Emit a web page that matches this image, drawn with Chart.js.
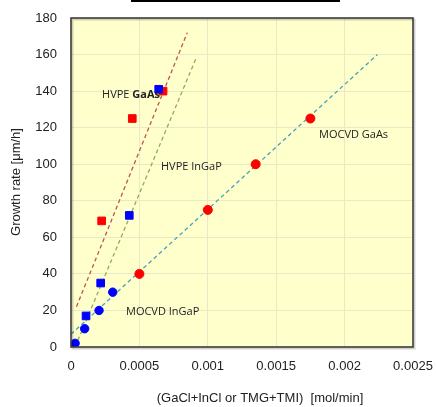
<!DOCTYPE html>
<html>
<head>
<meta charset="utf-8">
<script src="https://cdn.jsdelivr.net/npm/chart.js@4"></script>
<style>
  html, body { margin: 0; padding: 0; background: #fff; }
  #wrap { width: 436px; height: 407px; }
</style>
</head>
<body>
<div id="wrap"><canvas id="c" width="436" height="407"></canvas></div>
<script>
"use strict";

// measured points
var mocvdGaAs = [[0.0005, 40], [0.001, 75], [0.00135, 100], [0.00175, 125]];
var mocvdInGaP = [[0.00003, 2], [0.0001, 10], [0.000205, 20], [0.000305, 30]];
var hvpeInGaP = [[0.00011, 17], [0.000217, 35], [0.000426, 72], [0.000641, 141]];
var hvpeGaAs = [[0.000224, 69], [0.000448, 125], [0.000673, 140]];

// trend lines (end points)
var trendGaAs = [[0.00004, 22], [0.00085, 172]];
var trendInGaP = [[0.00003, 0], [0.00092, 159]];
var trendMocvd = [[0, 7], [0.00224, 160]];

var xTickLabels = ['0', '0.0005', '0.001', '0.0015', '0.002', '0.0025'];

// in-plot labels, anchored in data coordinates (left edge, vertical middle)
var notes = [
    { parts: [['HVPE ', 'normal'], ['GaAs', 'bold']], x: 0.000227, y: 138 },
    { parts: [['HVPE InGaP', 'normal']], x: 0.000658, y: 98.5 },
    { parts: [['MOCVD InGaP', 'normal']], x: 0.000402, y: 19 },
    { parts: [['MOCVD GaAs', 'normal']], x: 0.001813, y: 116 }
];

var toXY = function (arr) {
    return arr.map(function (p) { return { x: p[0], y: p[1] }; });
};

var dashed = function (data, color) {
    return {
        type: 'line',
        data: toXY(data),
        borderColor: color,
        borderWidth: 1.3,
        borderDash: [4, 3],
        pointRadius: 0,
        fill: false,
        order: 2
    };
};

var marks = function (data, color, style, r) {
    return {
        type: 'scatter',
        data: toXY(data),
        backgroundColor: color,
        borderColor: color,
        pointStyle: style,
        pointRadius: r,
        pointHoverRadius: r,
        order: 1
    };
};

var plotDecor = {
    id: 'plotDecor',
    beforeDraw: function (chart) {
        var ctx = chart.ctx, a = chart.chartArea;
        ctx.save();
        ctx.fillStyle = '#ffffcc';
        ctx.fillRect(a.left, a.top, a.right - a.left, a.bottom - a.top);
        // title underline stub at top
        ctx.fillStyle = '#000';
        ctx.fillRect(131, 0, 209, 2);
        ctx.restore();
    },
    afterDraw: function (chart) {
        var ctx = chart.ctx, a = chart.chartArea,
            xs = chart.scales.x, ys = chart.scales.y;
        ctx.save();
        ctx.strokeStyle = 'rgba(0,0,0,0.18)';
        ctx.lineWidth = 2;
        ctx.strokeRect(a.left + 1.5, a.top + 1.5, a.right - a.left, a.bottom - a.top);
        ctx.strokeStyle = '#3c3c3c';
        ctx.lineWidth = 1.6;
        ctx.strokeRect(a.left, a.top, a.right - a.left, a.bottom - a.top);

        ctx.fillStyle = '#222';
        ctx.textBaseline = 'middle';
        notes.forEach(function (n) {
            var px = xs.getPixelForValue(n.x), py = ys.getPixelForValue(n.y);
            n.parts.forEach(function (p) {
                ctx.font = (p[1] === 'bold' ? 'bold ' : '') + '11px "Open Sans", "Noto Sans", sans-serif';
                ctx.fillText(p[0], px, py);
                px += ctx.measureText(p[0]).width;
            });
        });

        // axis titles
        ctx.fillStyle = '#222';
        ctx.font = '13px "Liberation Sans", Arial, sans-serif';
        ctx.textAlign = 'center';
        ctx.fillText('(GaCl+InCl or TMG+TMI)  [mol/min]', 260, 398);
        ctx.translate(16, 182);
        ctx.rotate(-Math.PI / 2);
        ctx.fillText('Growth rate [\u03bcm/h]', 0, 0);
        ctx.restore();
    }
};

new Chart(document.getElementById('c'), {
    type: 'scatter',
    data: {
        datasets: [
            dashed(trendGaAs, '#b85555'),
            dashed(trendInGaP, '#90ad5a'),
            dashed(trendMocvd, '#4a9fbf'),
            marks(mocvdInGaP, '#0000ff', 'circle', 4.2),
            marks(mocvdGaAs, '#ff0000', 'circle', 4.5),
            marks(hvpeInGaP, '#0000ff', 'rect', 5.4),
            marks(hvpeGaAs, '#ff0000', 'rect', 5.4)
        ]
    },
    options: {
        responsive: false,
        animation: false,
        events: [],
        layout: { padding: { top: 18, right: 23, left: 0, bottom: 0 } },
        plugins: {
            legend: { display: false },
            tooltip: { enabled: false }
        },
        scales: {
            x: {
                type: 'linear',
                min: 0,
                max: 0.0025,
                afterFit: function (s) {
                    s.height = 60;
                    s.paddingLeft = 0;
                    s.paddingRight = 0;
                },
                afterBuildTicks: function (s) {
                    s.ticks = xTickLabels.map(function (t) { return { value: parseFloat(t) }; });
                },
                ticks: {
                    color: '#222',
                    font: { family: '"Liberation Sans", Arial, sans-serif', size: 13 },
                    padding: 12,
                    maxRotation: 0,
                    callback: function (v, i) { return xTickLabels[i]; }
                },
                grid: { color: '#ebe8c8', drawTicks: false },
                border: { display: false }
            },
            y: {
                min: 0,
                max: 180,
                afterFit: function (s) {
                    s.width = 71;
                    s.paddingTop = 0;
                    s.paddingBottom = 0;
                },
                ticks: {
                    stepSize: 20,
                    color: '#222',
                    font: { family: '"Liberation Sans", Arial, sans-serif', size: 13 },
                    padding: 14
                },
                grid: { color: '#ebe8c8', drawTicks: false },
                border: { display: false }
            }
        }
    },
    plugins: [plotDecor]
});
</script>
</body>
</html>
